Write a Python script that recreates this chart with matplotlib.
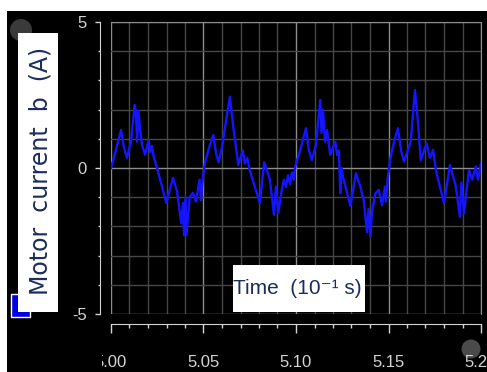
import matplotlib
matplotlib.use('Agg')
import matplotlib.pyplot as plt
from matplotlib.patches import Rectangle, Circle
from matplotlib.transforms import Affine2D
from matplotlib.ticker import MultipleLocator, FormatStrFormatter

plt.rcParams['axes.unicode_minus'] = False

# data (time in 10^-1 s, current in A)
time = [5.0000, 5.0022, 5.0054, 5.0070, 5.0086, 5.0108, 5.0128, 5.0135, 5.0141, 5.0149,
        5.0157, 5.0168, 5.0184, 5.0204, 5.0212, 5.0222, 5.0232, 5.0249, 5.0299, 5.0335,
        5.0357, 5.0380, 5.0389, 5.0395, 5.0403, 5.0408, 5.0425, 5.0443, 5.0459, 5.0479,
        5.0486, 5.0497,
        5.0508, 5.0530, 5.0553, 5.0568, 5.0581, 5.0600, 5.0625, 5.0643, 5.0661, 5.0676,
        5.0688, 5.0712, 5.0724, 5.0737, 5.0751, 5.0805, 5.0828, 5.0859, 5.0881, 5.0892,
        5.0904, 5.0923, 5.0935, 5.0946, 5.0957, 5.0968, 5.0978, 5.0988, 5.0996,
        5.1022, 5.1054, 5.1070, 5.1086, 5.1108, 5.1131, 5.1138, 5.1146, 5.1157, 5.1168,
        5.1185, 5.1212, 5.1222, 5.1232, 5.1239, 5.1246, 5.1254, 5.1294, 5.1324, 5.1346,
        5.1366, 5.1384, 5.1392, 5.1402, 5.1411, 5.1429, 5.1447, 5.1465, 5.1481, 5.1486,
        5.1497,
        5.1512, 5.1530, 5.1551, 5.1568, 5.1584, 5.1620, 5.1643, 5.1659, 5.1674, 5.1706,
        5.1724, 5.1741, 5.1757, 5.1800, 5.1832, 5.1863, 5.1886, 5.1894, 5.1908, 5.1935,
        5.1953, 5.1972, 5.1984, 5.2000]
current = [0.0, 0.5, 1.3, 0.7, 0.35, 0.9, 2.16, 1.9, 0.9, 1.95,
           1.3, 0.8, 0.45, 0.95, 0.55, 0.75, 0.35, 0.0, -1.2, -0.34,
           -0.8, -1.9, -1.2, -2.3, -1.0, -2.3, -1.0, -0.85, -1.15, -0.4,
           -1.1, -0.3,
           0.17, 0.7, 1.13, 0.5, 0.2, 0.7, 1.76, 2.44, 1.4, 0.7,
           0.1, 0.6, 0.15, 0.34, -0.1, -1.2, 0.2, -0.4, -1.6, -0.64,
           -1.55, -0.75, -0.4, -0.65, -0.25, -0.55, -0.15, -0.4, 0.05,
           0.6, 1.36, 0.6, 0.27, 0.8, 2.33, 1.2, 2.0, 0.9, 1.3,
           0.45, 0.9, 0.45, 0.6, -0.87, 0.0, -0.3, -1.3, -0.18, -0.6,
           -1.1, -2.2, -1.4, -2.35, -1.5, -0.87, -0.75, -1.27, -0.64, -1.15,
           -0.3,
           0.39, 0.9, 1.36, 0.6, 0.22, 0.9, 2.67, 1.6, 0.27, 0.84,
           0.35, 0.62, -0.1, -1.2, 0.1, -0.6, -1.67, -0.5, -1.55, -0.07,
           -0.4, 0.05, -0.4, 0.16]

x_range = (5.0, 5.2)
y_range = (-5, 5)
y_label = 'Motor  current  b  (A)'
x_label = 'Time  (10\u207b\u00b9 s)'

W, H = 487, 372
fig = plt.figure(figsize=(W / 100, H / 100), dpi=100, facecolor='white')
# pixel coords, origin at top-left
px = Affine2D().scale(1, -1).translate(0, H)

# black scope background + window decorations
fig.add_artist(Rectangle((7, 11), W - 7, H - 11, transform=px, fc='black', ec='none', zorder=-3))
fig.add_artist(Circle((21, 30), 11, transform=px, fc='#3a3a3a', ec='none', zorder=-2))
fig.add_artist(Circle((471, 349), 9.5, transform=px, fc='#4a4a4a', ec='none', zorder=-2))

ax = fig.add_axes([111 / W, 1 - 314 / H, 370 / W, 292 / H])
ax.set_facecolor('black')
ax.plot(time, current, color='#1414ff', lw=1.7)
ax.set_xlim(*x_range)
ax.set_ylim(*y_range)

ax.xaxis.set_major_locator(MultipleLocator(0.05))
ax.xaxis.set_minor_locator(MultipleLocator(0.01))
ax.yaxis.set_major_locator(MultipleLocator(5))
ax.yaxis.set_minor_locator(MultipleLocator(1))
ax.xaxis.set_major_formatter(FormatStrFormatter('%.2f'))
ax.set_axisbelow(True)
ax.grid(which='major', color='#8c8c8c', lw=1)
ax.grid(which='minor', color='#474747', lw=1)

for s in ['top', 'right']:
    ax.spines[s].set_color('#8c8c8c')
for s in ['left', 'bottom']:
    ax.spines[s].set_color('#d4d4d4')
ax.spines['left'].set_position(('outward', 7.9))
ax.spines['bottom'].set_position(('outward', 7.2))

ax.tick_params(axis='x', which='major', length=6.5, width=1, color='#d4d4d4',
               labelcolor='#d4d4d4', pad=15.5, labelsize=12)
ax.tick_params(axis='x', which='minor', length=2.9, width=1, color='#d4d4d4')
ax.tick_params(axis='y', which='major', length=3.6, width=1, color='#d4d4d4',
               labelcolor='#d4d4d4', pad=6, labelsize=12)
ax.tick_params(axis='y', which='minor', length=1.5, width=1, color='#d4d4d4')
for lab in ax.get_xticklabels() + ax.get_yticklabels():
    lab.set_fontfamily('Liberation Sans')

# legend swatch and y label box
fig.add_artist(Rectangle((11, 294), 19, 23, transform=px, fc='#0000e6', ec='white', lw=1, zorder=2))
fig.add_artist(Rectangle((18, 33), 40, 279, transform=px, fc='white', ec='none', zorder=3))
fig.text(41, 171, y_label, transform=px, rotation=90, ha='center', va='center',
         fontsize=17, color='#1b2c5e', family='DejaVu Sans', zorder=4)

# x label box inside the plot
fig.add_artist(Rectangle((233, 265), 132, 47, transform=px, fc='white', ec='none', zorder=3))
fig.text(297, 289, x_label, transform=px, ha='center', va='center',
         fontsize=15, color='#1b2c5e', family=['Liberation Sans', 'DejaVu Sans'], zorder=4)

# left part of the first tick label is cut off in the original
fig.add_artist(Rectangle((7, 338), 95, 34, transform=px, fc='black', ec='none', zorder=5))

fig.savefig('out.png', dpi=100, facecolor='white')
